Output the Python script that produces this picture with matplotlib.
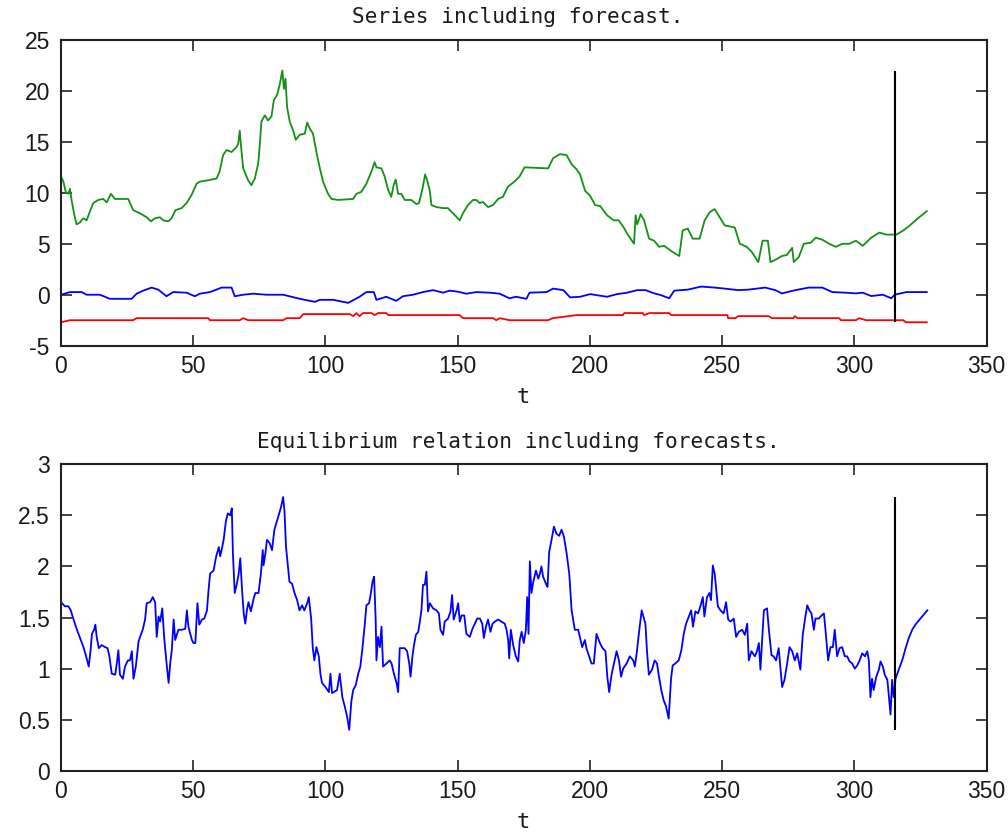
import matplotlib
matplotlib.use("Agg")
import matplotlib.pyplot as plt
import numpy as np

# ---------------- data ----------------
forecast_start = 315.5

green_t = [0, 0.9, 1.8, 2.8, 3.4, 4, 4.9, 5.9, 7.2, 8.4, 9.7, 10.7, 12.2, 14.1, 16, 17.3, 18.9, 20.4,
           25.4, 27.3, 29.8, 32.4, 34, 35.5, 37.4, 38.7, 40.6, 41.8, 43.3, 45.6, 47.5, 49.4, 51.3,
           52.5, 55, 58.8, 60, 61.3, 62.6, 64.5, 66.4, 67, 67.6, 68, 68.9, 70.8, 72, 73.3, 74.6,
           75.2, 75.8, 77.1, 78.3, 79.6, 80.5, 81.7, 82.7, 83.7, 84.3, 84.9, 85.5, 86.5, 87.8, 88.8,
           90.3, 92.2, 93.1, 94.1, 95.3, 96.6, 97.9, 99.1, 101, 102.3, 104.8, 110.5, 111.7, 113.6,
           115.5, 117.4, 118.6, 119.3, 121.2, 122.4, 123.7, 124.9, 125.8, 126.6, 127.5, 128.7, 130,
           132.5, 134.4, 135.4, 136.7, 137.7, 138.5, 139.4, 140.1, 142, 144.5, 146.3, 148.2, 150.8,
           152, 153.9, 155.8, 157.1, 158.3, 159.6, 161.5, 163.4, 165.3, 167.1, 169, 171.5, 173.4,
           175.3, 184.2, 186.1, 188.7, 191.2, 193.1, 195, 196.3, 198.2, 200.1, 202, 203.9, 206.5,
           209, 210.9, 212.8, 214.1, 216.7, 217.3, 217.9, 219.2, 220.5, 222.4, 224.3, 226.2, 228.1,
           230.7, 233.8, 235.1, 237, 238.9, 241.5, 243.4, 245.3, 247.2, 249.1, 251, 254.8, 256.7,
           259.3, 261.2, 263.7, 265.3, 267.3, 268.3, 270.7, 272.6, 274.5, 276.5, 277.1, 279, 280.9,
           283.5, 285.4, 287.9, 290.5, 293, 295.5, 298.1, 300.6, 303.2, 306.4, 309.5, 312.1, 315.9,
           318.5, 321, 323.6, 327.4]
green_v = [11.6, 11.1, 10.1, 9.9, 10.4, 9.3, 8.0, 6.9, 7.1, 7.5, 7.3, 8.0, 9.0, 9.3, 9.4, 9.05, 9.9, 9.4,
           9.4, 8.3, 8.0, 7.6, 7.2, 7.5, 7.6, 7.3, 7.2, 7.5, 8.3, 8.5, 9.0, 9.8, 10.9,
           11.1, 11.2, 11.4, 12.1, 13.7, 14.2, 14.0, 14.5, 14.8, 16.1, 14.8, 12.4, 11.2, 10.75, 11.4, 12.9,
           14.8, 17.0, 17.6, 17.1, 17.5, 19.1, 19.6, 20.6, 22.0, 20.2, 21.2, 18.4, 17.0, 16.1, 15.2,
           15.7, 15.8, 16.9, 16.3, 15.8, 14.0, 12.4, 11.1, 9.9, 9.4, 9.3, 9.4, 9.9, 10.1,
           10.9, 12.1, 13.0, 12.5, 12.4, 11.6, 10.3, 9.6, 10.75, 11.3, 9.9, 9.9, 9.3,
           9.3, 8.9, 9.0, 10.4, 11.8, 11.2, 10.3, 8.8, 8.6, 8.5, 8.5, 8.0, 7.3,
           8.0, 8.8, 9.3, 9.3, 9.0, 9.1, 8.6, 8.8, 9.4, 9.6, 10.6, 11.1, 11.6,
           12.5, 12.4, 13.4, 13.8, 13.7, 12.8, 12.3, 11.8, 10.2, 9.7, 8.8, 8.7, 7.8,
           7.3, 7.3, 6.6, 6.0, 5.0, 7.8, 6.9, 7.9, 7.3, 5.5, 5.3, 4.7, 4.8,
           4.3, 3.8, 6.3, 6.5, 5.5, 5.5, 7.3, 8.1, 8.4, 7.6, 6.8, 6.6, 5.0,
           4.7, 4.2, 3.2, 5.3, 5.3, 3.2, 3.5, 3.8, 3.9, 4.6, 3.2, 3.7, 5.0,
           5.1, 5.6, 5.4, 5.0, 4.7, 5.0, 5.0, 5.3, 4.8, 5.6, 6.1, 5.9, 5.9,
           6.3, 6.8, 7.4, 8.2]

blue_t = [0, 3.4, 7.8, 9.7, 14.7, 18.5, 22.3, 26.7, 28.6, 31.1, 34.3, 36.8, 39.9, 42.4, 47.5, 50.6,
          52.5, 56.3, 58.8, 60.7, 64.5, 65.7, 68.9, 72.7, 77.7, 84, 90.3, 96, 97.9, 102.9, 108.6,
          112.9, 115.5, 118.3, 119.3, 123, 126.8, 129.3, 133.1, 136.9, 140.7, 144.5, 147, 150.1,
          153.3, 157.1, 162.1, 165.9, 169.6, 172.1, 176, 177.2, 183.6, 186.1, 190, 192.5, 196.3,
          200.1, 206.5, 210.3, 214.1, 217.9, 221.1, 224.3, 226.8, 230, 231.9, 237, 242.1, 247.2,
          251, 256.1, 259.9, 266.3, 270.1, 272.6, 277.7, 282.8, 287.9, 291.7, 296.8, 300.6, 303.2,
          306.4, 310.8, 314, 315.3, 319.7, 327.4]
blue_v = [0.0, 0.26, 0.26, 0.0, 0.0, -0.4, -0.4, -0.4, 0.1, 0.4, 0.7, 0.5, -0.15, 0.26, 0.2, -0.15,
          0.1, 0.26, 0.5, 0.7, 0.7, -0.15, 0.0, 0.1, 0.0, 0.0, -0.4, -0.7, -0.5, -0.5, -0.8,
          -0.2, 0.26, 0.26, -0.5, -0.2, -0.6, -0.15, 0.0, 0.26, 0.45, 0.2, 0.4, 0.3,
          0.1, 0.26, 0.2, 0.1, -0.35, -0.2, -0.4, 0.2, 0.26, 0.6, 0.45, -0.26, -0.2,
          0.06, -0.2, 0.06, 0.2, 0.45, 0.45, 0.13, -0.03, -0.35, 0.4, 0.5, 0.8, 0.7,
          0.6, 0.45, 0.5, 0.7, 0.45, 0.13, 0.45, 0.7, 0.7, 0.26, 0.2, 0.13, 0.2,
          -0.13, 0.0, -0.35, 0.0, 0.26, 0.26]

red_t = [0, 3.4, 27.3, 28.6, 55.7, 56.3, 67.6, 68.9, 70.8, 84, 85.3, 90.3, 91.6, 109.2, 110.5, 111.7,
         112.9, 114.2, 117.4, 118.6, 119.9, 123, 123.7, 150.8, 152, 163.4, 164.6, 165.9, 169.6,
         184.2, 186, 195, 212.5, 213, 220, 220.5, 222.5, 230, 230.7, 252, 252.3, 255, 256.1, 267.6,
         268.9, 277, 277.5, 278.5, 294.3, 294.9, 300.6, 301.9, 304.4, 318.5, 319.5, 327.4]
red_v = [-2.7, -2.5, -2.5, -2.3, -2.3, -2.5, -2.5, -2.3, -2.5, -2.5, -2.3, -2.3, -1.9, -1.9, -2.1, -1.8,
         -2.1, -1.8, -1.8, -2.0, -1.8, -1.8, -2.0, -2.0, -2.3, -2.3, -2.5, -2.3, -2.5,
         -2.5, -2.3, -2.0, -2.0, -1.8, -1.8, -2.0, -1.8, -1.8, -2.0, -2.0, -2.3, -2.3, -2.1, -2.1,
         -2.3, -2.3, -2.1, -2.3, -2.3, -2.5, -2.5, -2.3, -2.5, -2.5, -2.7, -2.7]

eq_t = [0, 1.5, 2.8, 3.7, 4.4, 5.9, 7.2, 8.5, 9.5, 10, 10.5, 11.2, 11.7, 12.5, 13, 13.5, 14.3, 15.4,
        16.7, 17.6, 18.3, 19.2, 20.5, 21.1, 21.7, 22.3, 23.4, 24.2, 25.3, 26.1, 26.8, 27.4, 28.3,
        29.3, 29.9, 30.9, 31.8, 32.4, 33.7, 34.7, 35.6, 36.2, 36.9, 37.5, 38.3, 39, 40, 40.7, 41.3,
        41.9, 42.6, 43.2, 44.4, 45.7, 47, 47.6, 48.2, 49.5, 50.1, 50.8, 51.6, 52.3, 53.3, 54.2,
        55.2, 55.8, 56.4, 57.7, 58.7, 59.7, 60.2, 60.9, 61.5, 62.4, 63.1, 64, 64.6, 65, 65.7, 66.5,
        67.2, 67.8, 68.4, 69.1, 69.7, 70.3, 70.9, 71.8, 72.9, 73.5, 74.7, 75.6, 76.3, 76.6, 77.3,
        77.9, 78.9, 79.8, 80.7, 81.4, 82.3, 83.2, 84, 84.5, 85.1, 85.7, 86.4, 87.4, 88.3, 89.3,
        90.2, 91.2, 92, 93.1, 93.7, 94.6, 95.2, 95.8, 96.6, 97.5, 98.1, 98.7, 100, 101.3, 101.9,
        102.5, 104.4, 105.4,
        106.4, 107.3, 108.2, 109, 109.8, 110.5, 111.5, 112.4, 113.2, 114, 114.9, 115.5, 116.5,
        117.2, 117.8, 118.4, 119, 119.3, 119.9, 120.6, 121.2, 121.8, 123.1, 124.3, 125, 125.9,
        126.9, 127.5, 128.1, 130, 130.9, 131.7, 132.2, 132.9, 133.5, 134.2, 135.1, 135.7, 136.3,
        136.9, 137.6, 138.2, 138.8, 139.5, 140.7, 142, 142.9, 143.5, 144.5, 145.1, 146.4, 147.3,
        147.9, 148.5, 149.6, 150.2, 150.8, 151.5, 152.5, 153.3, 154.6, 155.6, 156.5, 157.4, 158.4,
        159.3, 159.9, 160.7, 161.5, 162.4, 163.2, 164.1, 165.3, 166.6, 167.8, 168.5, 169.1, 169.5,
        170.1, 171, 172, 172.9, 173.5, 174.2, 175, 175.8, 176.3, 176.8, 177.3, 177.9, 178.6,
        179.6, 180.5, 181.1, 181.7, 182.3, 183.4, 184, 184.6, 185.5, 186.4, 187.4, 188.4, 189.3,
        190.2, 191.2, 192.2, 193.1, 194.3, 195.6, 196.2, 197.1, 198.1, 198.7, 199.7, 200.6, 201.5,
        202.5, 203.8, 204.8, 205.9, 206.6, 207.3, 208.2, 209.1, 210.1, 211, 211.8, 212.6, 213.9,
        215.1, 216.4, 217, 217.7, 218.7, 219.6,
        221, 221.6, 222.3, 223.5, 224.5, 225.4, 226, 227, 227.9, 228.8, 229.8, 230.7, 231.3,
        232.3, 233.6, 234.6, 235.5, 236.4, 237.4, 238.3, 239, 239.9, 240.9, 241.8, 242.7, 243.3,
        244.3, 245.2, 245.8, 246.5, 247.2, 247.7, 248.4, 249.4, 250.6, 251.5, 252.3, 253.2, 254.4,
        255.3, 256.3, 257.6, 258.6, 259.5, 260.1, 261.1, 262.4, 263.2, 263.9, 264.5, 265.1, 265.8,
        267, 267.7, 268.7, 269.5, 270.4, 271.4, 272.1, 272.7, 273.6, 274.6, 275.5, 276.5, 277.5,
        278.4, 279.6, 280.5, 281.5, 282.2, 283, 283.8, 284.7, 285.3, 286.6, 287.6, 288.5, 289.1,
        290.1, 291, 291.9, 292.6, 293.5, 294.4, 295.4, 296.4, 297.3, 298.2, 299.2, 300.2, 301.1,
        302, 303, 304, 304.9, 305.5, 306.1, 306.7, 307.3, 308.3, 309.3, 309.9, 310.8, 311.5,
        312.5, 313.1, 313.7, 314.3, 314.9, 315.6, 316.8, 318.1, 319.4, 320.6, 321.9, 323.1, 325,
        327.6]
eq_v = [1.65, 1.61, 1.61, 1.57, 1.51, 1.39, 1.30, 1.21, 1.12, 1.07, 1.02, 1.18, 1.34, 1.38, 1.43, 1.31,
        1.20, 1.23, 1.21, 1.20, 1.12, 0.95, 0.94, 1.05, 1.18, 0.94, 0.90, 1.02, 1.08, 1.08, 1.17,
        0.90, 1.02, 1.26, 1.31, 1.38, 1.48, 1.64, 1.65, 1.70, 1.65, 1.31, 1.51, 1.46, 1.59, 1.31,
        1.03, 0.86, 1.05, 1.18, 1.48, 1.28, 1.38, 1.38, 1.39, 1.57, 1.41, 1.28, 1.25, 1.25, 1.64,
        1.43, 1.48, 1.49, 1.57, 1.77, 1.93, 1.96, 2.10, 2.19, 2.10, 2.18, 2.26, 2.45, 2.52, 2.50,
        2.57, 2.14, 1.74, 1.83, 1.93, 2.08, 1.80, 1.54, 1.44, 1.57, 1.65, 1.56, 1.69, 1.74, 1.74,
        1.93, 2.16, 2.01, 2.13, 2.26, 2.23, 2.16, 2.36, 2.42, 2.50, 2.58, 2.68, 2.55, 2.19, 2.03,
        1.85, 1.83, 1.74, 1.67, 1.57, 1.62, 1.57, 1.64, 1.70, 1.49, 1.21, 1.08, 1.21, 1.12, 0.95,
        0.86, 0.82, 0.77, 0.95, 0.76, 0.79, 0.95,
        0.72, 0.63, 0.53, 0.40, 0.68, 0.79, 0.84, 0.95, 1.02, 1.20, 1.44, 1.62, 1.64,
        1.74, 1.85, 1.90, 1.48, 1.08, 1.31, 1.21, 1.41, 1.02, 1.05, 1.08, 1.05, 0.95,
        0.86, 0.77, 1.20, 1.20, 1.17, 1.05, 0.92, 1.12, 1.23, 1.33, 1.36, 1.46, 1.57,
        1.82, 1.82, 1.95, 1.56, 1.64, 1.59, 1.57, 1.54, 1.38, 1.33, 1.46, 1.49, 1.56,
        1.72, 1.48, 1.57, 1.64, 1.46, 1.52, 1.52, 1.34, 1.31, 1.39, 1.44, 1.49, 1.49,
        1.44, 1.30, 1.41, 1.48, 1.36, 1.44, 1.46, 1.48, 1.46, 1.44, 1.38, 1.28, 1.10,
        1.38, 1.23, 1.12, 1.07, 1.28, 1.36, 1.25, 1.38, 1.70, 1.34, 2.05, 1.74, 1.85,
        1.96, 1.88, 1.93, 2.00, 1.90, 1.83, 1.80, 2.14, 2.26, 2.39, 2.32, 2.30, 2.36,
        2.29, 2.13, 1.93, 1.57, 1.38, 1.38, 1.31, 1.21, 1.28, 1.20, 1.12, 1.05, 1.05,
        1.34, 1.25, 1.20, 1.17, 0.92, 0.77, 0.94, 1.05, 1.17, 1.08, 0.92, 1.00, 1.05,
        1.12, 1.08, 1.02, 1.15, 1.38, 1.57,
        1.44, 1.17, 0.94, 0.99, 1.08, 1.05, 0.94, 0.79, 0.69, 0.63, 0.51, 0.90, 1.03,
        1.05, 1.08, 1.18, 1.34, 1.44, 1.51, 1.57, 1.41, 1.56, 1.54, 1.61, 1.70, 1.51,
        1.70, 1.74, 1.67, 2.01, 1.93, 1.80, 1.61, 1.57, 1.54, 1.65, 1.48, 1.46, 1.49,
        1.31, 1.36, 1.38, 1.33, 1.44, 1.08, 1.17, 1.12, 1.17, 1.25, 0.99, 1.26, 1.57,
        1.59, 1.38, 1.13, 1.12, 1.08, 1.20, 0.99, 0.82, 0.89, 1.05, 1.21, 1.17, 1.08,
        1.15, 0.99, 1.33, 1.51, 1.62, 1.57, 1.54, 1.38, 1.49, 1.49, 1.52, 1.54, 1.38,
        1.08, 1.21, 1.21, 1.38, 1.12, 1.20, 1.21, 1.12, 1.12, 1.07, 1.05, 1.00, 1.03,
        1.08, 1.15, 1.12, 1.17, 1.08, 0.72, 0.90, 0.79, 0.92, 0.99, 1.07, 1.02, 0.94,
        0.89, 0.72, 0.55, 0.89, 0.72, 0.90, 0.99, 1.08, 1.20, 1.30, 1.38, 1.43, 1.49,
        1.57]

top_yticks = [-5, 0, 5, 10, 15, 20, 25]
top_yticklabels = ["-5", "0", "5", "10", "15", "20", "25"]
bot_yticks = [0, 0.5, 1, 1.5, 2, 2.5, 3]
bot_yticklabels = ["0", "0.5", "1", "1.5", "2", "2.5", "3"]
xticks = [0, 50, 100, 150, 200, 250, 300, 350]
xticklabels = ["0", "50", "100", "150", "200", "250", "300", "350"]

top_title = "Series including forecast."
bot_title = "Equilibrium relation including forecasts."

# ---------------- styling ----------------
GREEN = "#149114"
BLUE = "#0000ff"
RED = "#ff0000"
TICK_FONT = "Liberation Sans"
TITLE_FONT = "DejaVu Sans Mono"
TEXT_COLOR = "#1a1a1a"

fig = plt.figure(figsize=(10.08, 8.38), dpi=100)
ax1 = fig.add_axes([0.0605, 0.5875, 0.9182, 0.3648])
ax2 = fig.add_axes([0.0605, 0.0803, 0.9182, 0.3656])

lw = 1.3
ax1.plot(green_t, green_v, color=GREEN, lw=lw)
ax1.plot(blue_t, blue_v, color=BLUE, lw=lw)
ax1.plot(red_t, red_v, color=RED, lw=lw)
all_top = green_v + blue_v + red_v
ax1.vlines(forecast_start, min(all_top), max(all_top), color="black", lw=1.5)

ax2.plot(eq_t, eq_v, color=BLUE, lw=lw)
ax2.vlines(forecast_start, min(eq_v), max(eq_v), color="black", lw=1.5)

for ax, yt, ytl, ttl in [(ax1, top_yticks, top_yticklabels, top_title),
                          (ax2, bot_yticks, bot_yticklabels, bot_title)]:
    ax.set_xlim(0, 350)
    ax.set_ylim(yt[0], yt[-1])
    ax.set_xticks(xticks)
    ax.set_xticklabels(xticklabels, fontfamily=TICK_FONT, fontsize=16.5, color=TEXT_COLOR)
    ax.set_yticks(yt)
    ax.set_yticklabels(ytl, fontfamily=TICK_FONT, fontsize=16.5, color=TEXT_COLOR)
    ax.tick_params(direction="in", length=8, width=1.2, top=True, right=True,
                   color="#222222")
    ax.tick_params(axis="x", pad=7)
    ax.tick_params(axis="y", pad=8)
    for s in ax.spines.values():
        s.set_linewidth(1.5)
        s.set_color("#222222")
    ax.set_title(ttl, fontfamily=TITLE_FONT, fontsize=15.2, pad=12, x=0.494,
                 color=TEXT_COLOR)
    ax.set_xlabel("t", fontfamily=TITLE_FONT, fontsize=16, labelpad=6, color=TEXT_COLOR)

fig.savefig("out.png", dpi=100)
